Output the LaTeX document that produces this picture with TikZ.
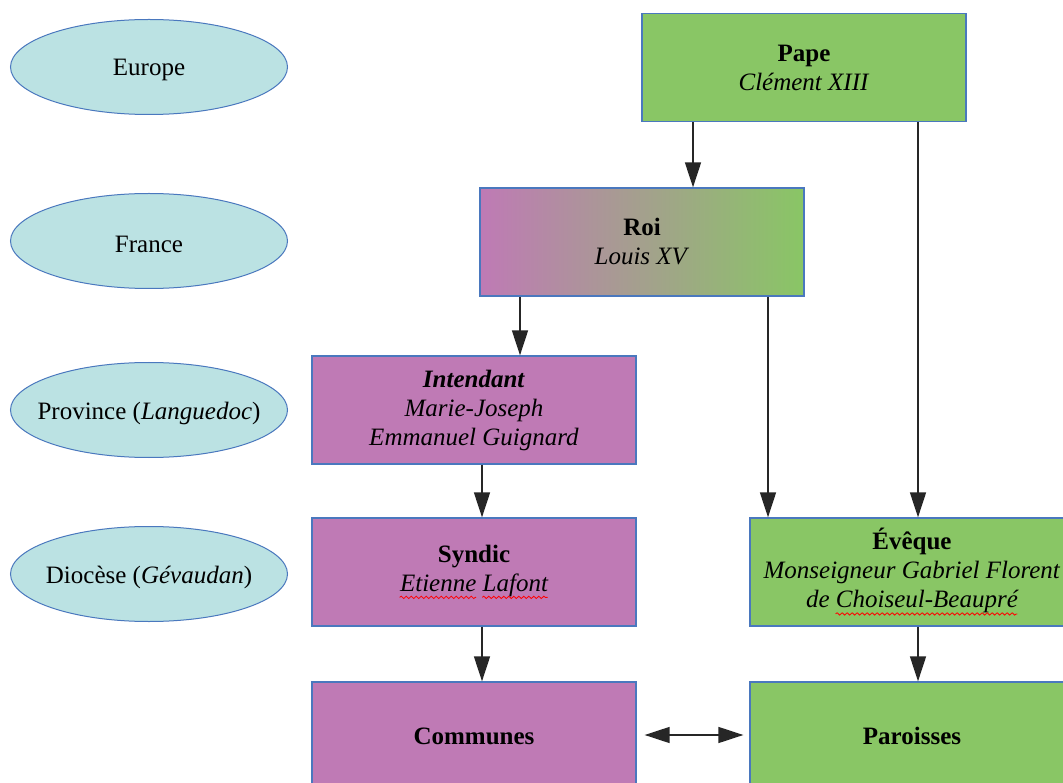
\documentclass[tikz,border=0pt]{standalone}
\usepackage{fontspec}
\setmainfont{Liberation Serif}
\usetikzlibrary{arrows.meta,shapes.geometric,decorations.pathmorphing}
\definecolor{pur}{RGB}{191,122,181}
\definecolor{grn}{RGB}{137,198,101}
\definecolor{cyanl}{RGB}{187,226,227}
\definecolor{bord}{RGB}{74,120,190}
\newlength{\splen}
\newcommand{\spellchk}[1]{\settowidth{\splen}{#1}#1\llap{\tikz[x=1pt,y=1pt,baseline=0pt]{\draw[red, line width=0.8pt, decorate, decoration={snake, amplitude=1.2pt, segment length=5pt}] (0pt,-6pt) -- (\splen,-6pt);}}}
\newcommand{\zw}[1]{\makebox[0pt]{\raisebox{-3pt}[\height][\depth]{#1}}}
\begin{document}
\begin{tikzpicture}[x=1pt,y=-1pt,
  every node/.style={font=\fontsize{25}{29}\selectfont, align=center, text=black},
  box/.style={draw=bord, line width=1.3pt, minimum width=324pt, minimum height=108pt, inner sep=0pt},
  pbox/.style={box, fill=pur},
  gbox/.style={box, fill=grn},
  lvl/.style={ellipse, draw=bord, line width=1pt, fill=cyanl, minimum width=277pt, minimum height=95pt, inner sep=0pt},
  arr/.style={line width=1.4pt, draw=black!85, -{Triangle[length=25pt,width=16pt]}},
  darr/.style={line width=1.4pt, draw=black!85, {Triangle[length=25pt,width=16pt]}-{Triangle[length=25pt,width=16pt]}}]
\useasboundingbox (0,0) rectangle (1063,783);
\fill[white] (0,0) rectangle (1063,783);
% levels
\node[lvl] (europe) at (149,67) {\zw{Europe}};
\node[lvl] (france) at (149,241) {\zw{France}};
\node[lvl] (province) at (149,410) {\zw{Province (\textit{Languedoc})}};
\node[lvl] (diocese) at (149,574) {\zw{Diocèse (\textit{Gévaudan})}};
% boxes
\node[gbox] (pape) at (804,67.5) {\textbf{Pape}\\\textit{Clément XIII}};
\node[box, left color=pur, right color=grn] (roi) at (642,242) {\textbf{Roi}\\\textit{Louis XV}};
\node[pbox] (intendant) at (474,410) {\textbf{\textit{Intendant}}\\\textit{Marie-Joseph}\\\textit{Emmanuel Guignard}};
\node[pbox] (syndic) at (474,572) {\textbf{Syndic}\\\textit{\spellchk{Etienne} \spellchk{Lafont}}};
\node[gbox] (eveque) at (912,572) {\textbf{Évêque}\\\textit{Monseigneur Gabriel Florent}\\\textit{de \spellchk{Choiseul-Beaupré}}};
\node[pbox] (communes) at (474,736) {\textbf{Communes}};
\node[gbox] (paroisses) at (912,736) {\textbf{Paroisses}};
% arrow columns
\coordinate (c1) at (693,0);
\coordinate (c2) at (918,0);
\coordinate (c3) at (520,0);
\coordinate (c4) at (768,0);
\coordinate (c5) at (482,0);
\coordinate (c6) at (918,0);
\coordinate (r) at (0,735);
\draw[arr] (c1 |- pape.south) -- (c1 |- roi.north);
\draw[arr] (c2 |- pape.south) -- (c2 |- eveque.north);
\draw[arr] (c3 |- roi.south) -- (c3 |- intendant.north);
\draw[arr] (c4 |- roi.south) -- (c4 |- eveque.north);
\draw[arr] (c5 |- intendant.south) -- (c5 |- syndic.north);
\draw[arr] (c5 |- syndic.south) -- (c5 |- communes.north);
\draw[arr] (c6 |- eveque.south) -- (c6 |- paroisses.north);
\draw[darr] ([xshift=8pt]communes.east |- r) -- ([xshift=-6pt]paroisses.west |- r);
\end{tikzpicture}
\end{document}
